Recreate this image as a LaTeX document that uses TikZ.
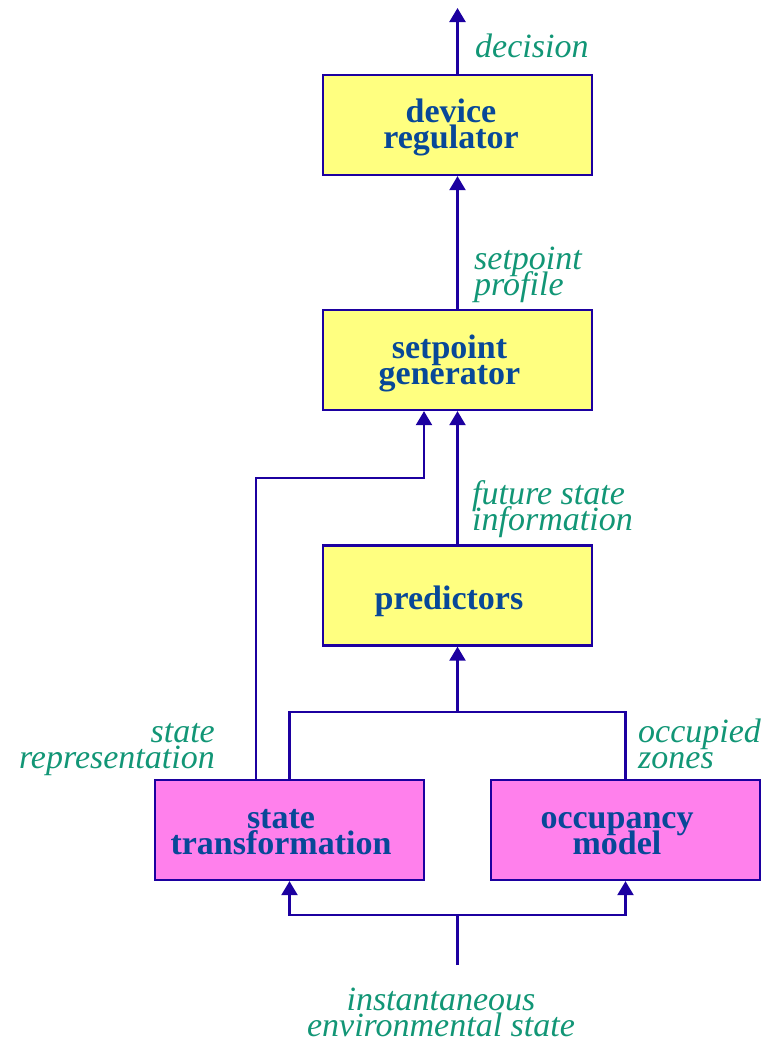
\documentclass[tikz,border=0pt]{standalone}
\usepackage{fontspec}
\setmainfont{Liberation Serif}
\usetikzlibrary{arrows.meta}
\newcommand\mytightlines{\lineskiplimit=-100pt\relax\lineskip=0pt\relax}
\definecolor{linec}{RGB}{28,0,160}
\definecolor{boxtxt}{RGB}{8,72,152}
\definecolor{labtxt}{RGB}{18,150,118}
\definecolor{yfill}{RGB}{255,255,128}
\definecolor{pfill}{RGB}{255,128,236}
\tikzset{
  box/.style={draw=linec, line width=2.3pt, minimum width=269pt, minimum height=100pt, inner sep=0pt},
  ybox/.style={box, fill=yfill},
  pbox/.style={box, fill=pfill},
  btext/.style={text=boxtxt, font={\fontsize{34}{25.5}\selectfont\bfseries\mytightlines}, align=center, inner sep=0pt, anchor=base},
  lab/.style={text=labtxt, font={\fontsize{34}{26}\selectfont\itshape\mytightlines}, inner sep=0pt, anchor=base west, align=left},
  conn/.style={draw=linec, line width=2.3pt},
  arr/.style={conn, -{Triangle[width=16pt,length=14pt]}},
}
\begin{document}
\begin{tikzpicture}[x=1pt,y=-1pt]
\useasboundingbox (0,0) rectangle (769,1042);
% boxes
\node[ybox] (dr) at (457.5,125) {};
\node[ybox] (sg) at (457.5,360) {};
\node[ybox] (pr) at (457.5,595.5) {};
\node[pbox] (st) at (289.5,830) {};
\node[pbox] (oc) at (625.5,830) {};
% box texts (base = baseline of last line)
\node[btext] (drt) at (451,148) {device\\regulator};
\node[btext] (sgt) at (449.5,384) {setpoint\\generator};
\node[btext] (prt) at (449,609) {predictors};
\node[btext] (stt) at (281,854) {state\\transformation};
\node[btext] (oct) at (617,854) {occupancy\\model};
% labels
\node[lab] (l1) at (475,57) {decision};
\node[lab] (l2) at (474,295) {setpoint\\profile};
\node[lab] (l3) at (472,530) {future state\\information};
\node[lab, anchor=base east, align=right] (l4) at (229,768) {state\hspace*{14pt}\\representation\hspace*{14pt}};
\node[lab] (l5) at (638,768) {occupied\\zones};
\node[lab, anchor=base, align=center] (l6) at (441,1036) {instantaneous\\environmental state};
% coordinates
\coordinate (out) at (457.5,8);
\coordinate (sa) at (256,780);
\coordinate (j1) at (424,478);
\coordinate (pj) at (457.5,712);
\coordinate (bj) at (457.5,915);
\coordinate (src) at (457.5,965);
% connectors
\draw[arr] (dr.north) -- (out);
\draw[arr] (sg.north) -- (dr.south);
\draw[arr] (pr.north) -- (sg.south);
\draw[arr] (sa) |- (j1) -- (j1 |- sg.south);
\draw[conn] (st.north) |- (pj) -| (oc.north);
\draw[arr] (pj) -- (pr.south);
\draw[conn] (src) -- (bj);
\draw[arr] (bj) -| (st.south);
\draw[arr] (bj) -| (oc.south);
\end{tikzpicture}
\end{document}
